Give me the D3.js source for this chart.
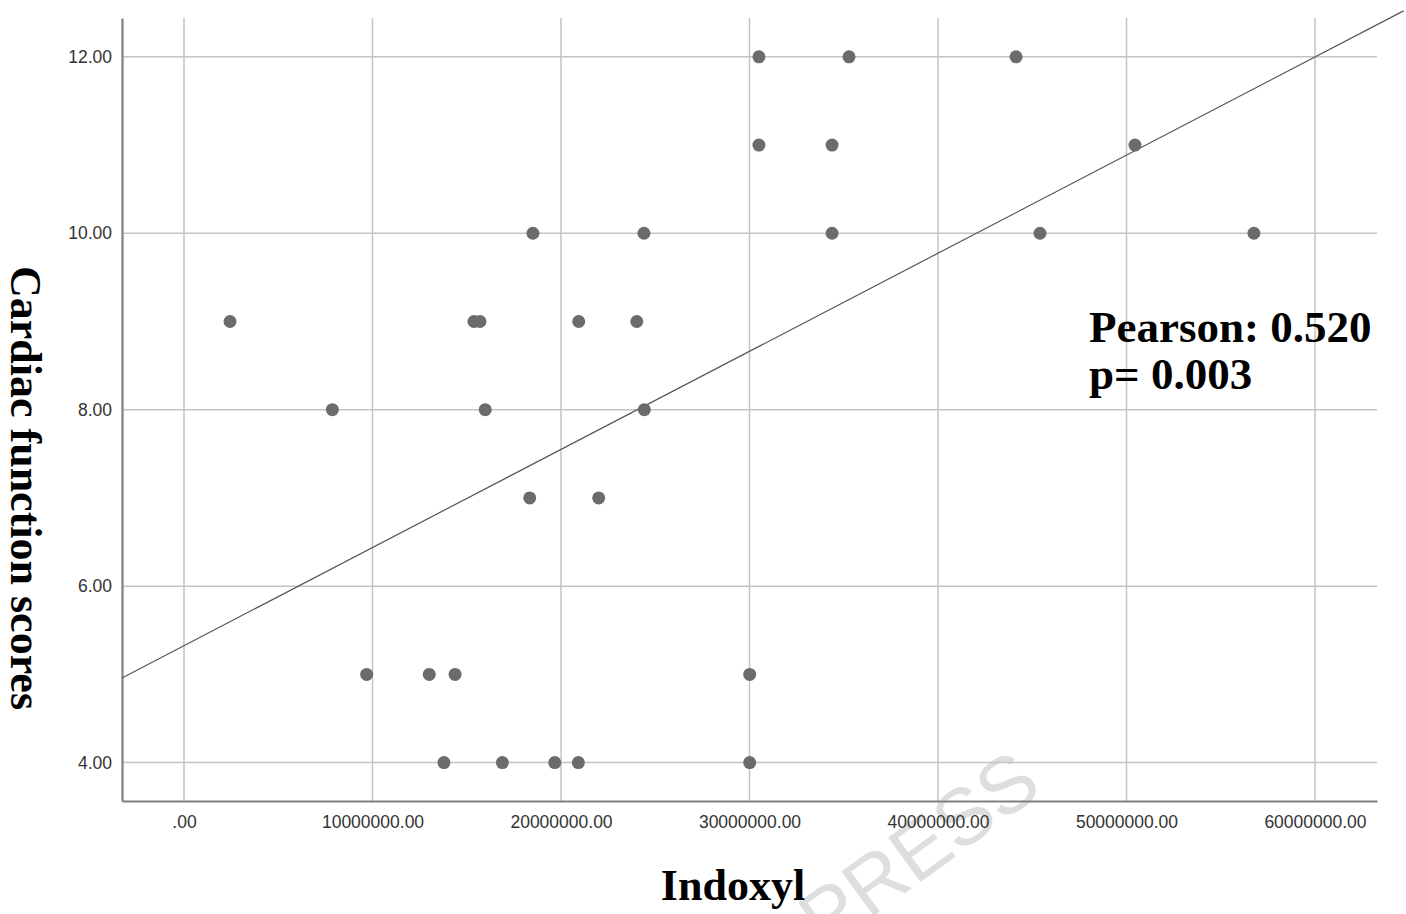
<!DOCTYPE html>
<meta charset="utf-8">
<head>
    <script src="https://d3js.org/d3.v7.min.js"></script>
    <style>
        body { margin: 0; background: #fff; }
        .tick text { font: 17.5px "Liberation Sans", Arial, sans-serif; fill: #333; }
        .title { font-family: "Liberation Serif", "Times New Roman", serif; font-weight: bold; fill: #000; }
    </style>
    <title>Indoxyl vs cardiac function</title>
</head>
<body>
<svg id="chart" width="1406" height="914"></svg>

<script>

    // indoxyl level (x) and cardiac function score (y)
    var indoxyl = [30.5e6, 35.28e6, 44.14e6,
        30.5e6, 34.38e6, 50.45e6,
        18.51e6, 24.4e6, 34.38e6, 45.41e6, 56.76e6,
        2.44e6, 15.38e6, 15.7e6, 20.94e6, 24.02e6,
        7.87e6, 15.98e6, 24.42e6,
        18.34e6, 22.0e6,
        9.69e6, 13.01e6, 14.38e6, 30.01e6,
        13.79e6, 16.89e6, 19.67e6, 20.92e6, 30.01e6];
    var scores = [12, 12, 12,
        11, 11, 11,
        10, 10, 10, 10, 10,
        9, 9, 9, 9, 9,
        8, 8, 8,
        7, 7,
        5, 5, 5, 5,
        4, 4, 4, 4, 4];

    var xTicks = [0, 10e6, 20e6, 30e6, 40e6, 50e6, 60e6];
    var yTicks = [4, 6, 8, 10, 12];

    // fitted line y = a + b x
    var fitIntercept = 5.326;
    var fitSlope = 1.112e-7;
    var fitRange = [-3.29e6, 64.7e6];

    var statLines = ["Pearson: 0.520", "p= 0.003"];

    var svg = d3.select("#chart");

    var x = d3.scaleLinear().domain([-3.29e6, 63.29e6]).range([122, 1377]);
    var y = d3.scaleLinear().domain([3.565, 12.44]).range([801, 18]);

    function fmt(d) {
        var s = d3.format(".2f")(d);
        return d === 0 ? s.slice(1) : s;
    }

    // watermark, behind everything
    svg.append("text")
        .attr("transform", "translate(918,848) rotate(-36)")
        .attr("text-anchor", "middle")
        .attr("dy", "0.36em")
        .attr("font-family", "Liberation Sans, Arial, sans-serif")
        .attr("font-size", 80)
        .attr("fill", "#dedede")
        .text("PRESS");

    // grid
    svg.append("g")
        .selectAll("line")
        .data(xTicks)
        .enter().append("line")
        .attr("x1", function (d) { return x(d); })
        .attr("x2", function (d) { return x(d); })
        .attr("y1", y.range()[1])
        .attr("y2", y.range()[0])
        .attr("stroke", "#c4c4c4")
        .attr("stroke-width", 1.5);

    svg.append("g")
        .selectAll("line")
        .data(yTicks)
        .enter().append("line")
        .attr("x1", x.range()[0])
        .attr("x2", x.range()[1])
        .attr("y1", function (d) { return y(d); })
        .attr("y2", function (d) { return y(d); })
        .attr("stroke", "#c4c4c4")
        .attr("stroke-width", 1.5);

    // axes
    var xAxis = svg.append("g")
        .attr("transform", "translate(0," + y.range()[0] + ")")
        .call(d3.axisBottom(x).tickValues(xTicks).tickFormat(fmt).tickSize(0).tickPadding(15));
    var yAxis = svg.append("g")
        .attr("transform", "translate(" + x.range()[0] + ",0)")
        .call(d3.axisLeft(y).tickValues(yTicks).tickFormat(fmt).tickSize(0).tickPadding(10));

    [xAxis, yAxis].forEach(function (a) {
        a.select(".domain").attr("stroke", "#808080").attr("stroke-width", 2.2);
    });

    // fit line
    svg.append("line")
        .attr("x1", x(fitRange[0]))
        .attr("y1", y(fitIntercept + fitSlope * fitRange[0]))
        .attr("x2", x(fitRange[1]))
        .attr("y2", y(fitIntercept + fitSlope * fitRange[1]))
        .attr("stroke", "#555")
        .attr("stroke-width", 1.2);

    // points
    svg.append("g")
        .selectAll("circle")
        .data(indoxyl)
        .enter().append("circle")
        .attr("cx", function (d) { return x(d); })
        .attr("cy", function (d, i) { return y(scores[i]); })
        .attr("r", 6.5)
        .attr("fill", "#6b6b6b");

    // stats text
    svg.append("text")
        .attr("class", "title")
        .attr("font-size", 45)
        .selectAll("tspan")
        .data(statLines)
        .enter().append("tspan")
        .attr("x", 1089)
        .attr("y", function (d, i) { return 342 + i * 47; })
        .text(function (d) { return d; });

    // axis titles
    svg.append("text")
        .attr("class", "title")
        .attr("x", 733)
        .attr("y", 900)
        .attr("text-anchor", "middle")
        .attr("font-size", 44)
        .text("Indoxyl");

    svg.append("text")
        .attr("class", "title")
        .attr("transform", "translate(11,488) rotate(90)")
        .attr("text-anchor", "middle")
        .attr("font-size", 44)
        .text("Cardiac function scores");

</script>
</body>
